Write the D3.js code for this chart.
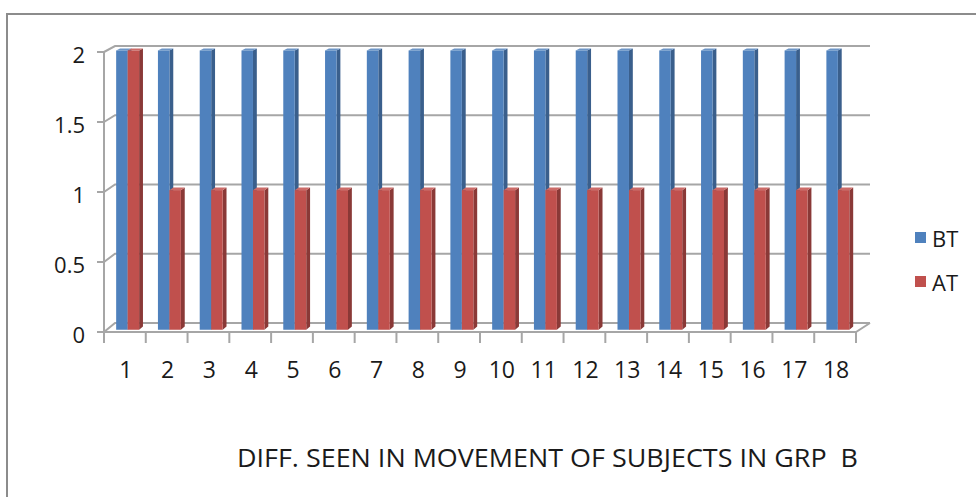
<!DOCTYPE html>
<html>
<head>
<meta charset="utf-8">
<script src="https://cdn.jsdelivr.net/npm/d3@7/dist/d3.min.js"></script>
<style>
  html, body { margin: 0; padding: 0; background: #fff; }
  svg { display: block; }
  text { font-family: "Open Sans", Lato, sans-serif; fill: #1a1a1a; white-space: pre; }
</style>
</head>
<body>
<svg id="chart" width="976" height="497"></svg>
<script>
// Subjects 1..18, before (BT) and after (AT) treatment
const categories = ["1","2","3","4","5","6","7","8","9","10","11","12","13","14","15","16","17","18"];
const seriesNames = ["BT", "AT"];
const btValues = [2,2,2,2,2,2,2,2,2,2,2,2,2,2,2,2,2,2];
const atValues = [2,1,1,1,1,1,1,1,1,1,1,1,1,1,1,1,1,1];
const yTicks = [0, 0.5, 1, 1.5, 2];
const yTickLabels = ["0", "0.5", "1", "1.5", "2"];
const titleText = "DIFF. SEEN IN MOVEMENT OF SUBJECTS IN GRP  B";

const colors = {
  BT: { front: "#4f81bd", side: "#3a5f8c", top: "#6d95c6" },
  AT: { front: "#c0504d", side: "#8a3937", top: "#cc6b68" }
};
const gridColor = "#a6a6a6";

const svg = d3.select("#chart");

// Outer frame
svg.append("path")
  .attr("d", "M7,497 V14 H976")
  .attr("fill", "none").attr("stroke", "#8c8c8c").attr("stroke-width", 2);

// Plot geometry: front plane and receding back wall
const depthX = 11;
const x = d3.scaleBand().domain(categories).range([104, 856]);
const yFront = d3.scaleLinear().domain([0, 2]).range([332, 52]);
const yBack = d3.scaleLinear().domain([0, 2]).range([323, 46]);
const xInner = d3.scaleBand().domain(seriesNames).range([0, x.bandwidth()])
  .paddingInner(0).paddingOuter(0.82);

// y at a given depth fraction t (0 = front, 1 = back wall)
const yAt = (v, t) => yFront(v) + t * (yBack(v) - yFront(v));

const frame = svg.append("g").attr("fill", "none").attr("stroke", gridColor).attr("stroke-width", 2);

// Back wall gridlines with their side-wall diagonals
yTicks.forEach(v => {
  frame.append("path")
    .attr("d", `M${x.range()[0]},${yFront(v)} L${x.range()[0] + depthX},${yBack(v)} H${x.range()[1] + 14}`);
});
// Floor front edge and right edge
frame.append("path")
  .attr("d", `M${x.range()[0]},${yFront(0)} H${x.range()[1]} L${x.range()[1] + 14},${yBack(0)}`);
// Vertical axis line and its ticks
frame.append("path").attr("d", `M${x.range()[0]},${yFront(2)} V${yFront(0)}`);
yTicks.forEach(v => {
  frame.append("path").attr("d", `M${x.range()[0] - 7},${yFront(v)} H${x.range()[0]}`);
});
// Category boundary ticks
const bounds = categories.map(c => x(c)).concat([x.range()[1]]);
bounds.forEach(bx => {
  frame.append("path").attr("d", `M${bx},${yFront(0)} V${yFront(0) + 11}`);
});

// Y tick labels
svg.append("g").selectAll("text").data(yTicks).join("text")
  .attr("x", 85).attr("y", d => yFront(d) + 3)
  .attr("dy", "0.35em").attr("text-anchor", "end")
  .style("font-size", "22px")
  .text((d, i) => yTickLabels[i]);

// X tick labels
svg.append("g").selectAll("text").data(categories).join("text")
  .attr("x", d => x(d) + x.bandwidth() / 2 + 1)
  .attr("y", 370).attr("dy", "0.35em").attr("text-anchor", "middle")
  .style("font-size", "23px")
  .text(d => d);

// 3D columns: front face sits at depth t0, back at t1
const t0 = 0.25, t1 = 0.6;
const barW = xInner.bandwidth();
const bars = [];
categories.forEach((c, i) => {
  bars.push({ cat: c, s: "BT", v: btValues[i] });
  bars.push({ cat: c, s: "AT", v: atValues[i] });
});

const gBars = svg.append("g");
bars.forEach(b => {
  const fx = x(b.cat) + xInner(b.s) + t0 * depthX;
  const bx = x(b.cat) + xInner(b.s) + t1 * depthX;
  const fTop = yAt(b.v, t0), fBot = yAt(0, t0);
  const bTop = yAt(b.v, t1), bBot = yAt(0, t1);
  const col = colors[b.s];
  const g = gBars.append("g");
  // right side face
  g.append("path")
    .attr("d", `M${fx + barW},${fTop} L${bx + barW},${bTop} L${bx + barW},${bBot} L${fx + barW},${fBot} Z`)
    .attr("fill", col.side);
  // top face
  g.append("path")
    .attr("d", `M${fx},${fTop} L${bx},${bTop} L${bx + barW},${bTop} L${fx + barW},${fTop} Z`)
    .attr("fill", col.top);
  // front face
  g.append("rect")
    .attr("x", fx).attr("y", fTop)
    .attr("width", barW).attr("height", fBot - fTop)
    .attr("fill", col.front);
});

// Legend
const legend = svg.append("g");
seriesNames.forEach((s, i) => {
  const ly = 238 + i * 44;
  legend.append("rect")
    .attr("x", 915).attr("y", ly - 6).attr("width", 11).attr("height", 11)
    .attr("fill", colors[s].front);
  legend.append("text")
    .attr("x", 932).attr("y", ly + 1).attr("dy", "0.35em")
    .style("font-size", "22px").text(s);
});

// Caption
svg.append("text")
  .attr("x", 237).attr("y", 458).attr("dy", "0.35em")
  .style("font-size", "26px")
  .attr("textLength", 621).attr("lengthAdjust", "spacingAndGlyphs")
  .text(titleText);
</script>
</body>
</html>
